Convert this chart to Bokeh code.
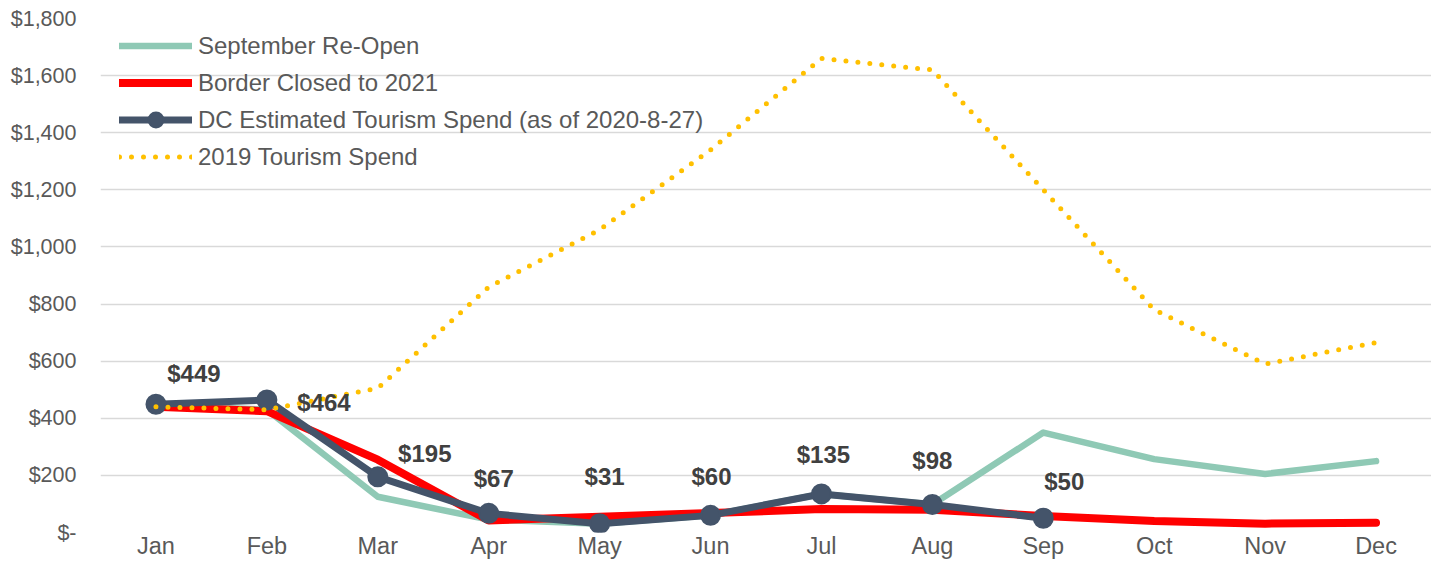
from bokeh.plotting import figure
from bokeh.models import FixedTicker, ColumnDataSource, Range1d, FactorRange
from bokeh.core.properties import value
from bokeh.embed import file_html
from bokeh.resources import INLINE

months = ["Jan", "Feb", "Mar", "Apr", "May", "Jun", "Jul", "Aug", "Sep", "Oct", "Nov", "Dec"]
reopen = [445, 430, 125, 45, 31, 60, 135, 98, 350, 257, 205, 250]
closed = [440, 425, 255, 42, 55, 68, 82, 80, 58, 40, 31, 34]
dc_months = ["Jan", "Feb", "Mar", "Apr", "May", "Jun", "Jul", "Aug", "Sep"]
dc_spend = [449, 464, 195, 67, 31, 60, 135, 98, 50]
spend_2019 = [440, 430, 505, 860, 1060, 1340, 1660, 1620, 1200, 780, 590, 665]
y_ticks = [0, 200, 400, 600, 800, 1000, 1200, 1400, 1600, 1800]
y_tick_labels = ["$-", "$200", "$400", "$600", "$800", "$1,000", "$1,200", "$1,400", "$1,600", "$1,800"]

# label placement (screen px offsets), kept apart from the data
label_dx = [38, 57, 47, 5, 5, 1, 2, 0, 21]
label_dy = [-31, 2, -23, -35, -47, -39, -39, -44, -37]

FONT = "Liberation Sans"

p = figure(width=1431, height=561, x_range=FactorRange(factors=months),
           y_range=Range1d(0, 1800), output_backend="svg", toolbar_location=None,
           min_border_left=100, min_border_top=18, min_border_right=0, min_border_bottom=0)
p.outline_line_color = None
p.background_fill_color = "white"
p.border_fill_color = "white"

p.xgrid.grid_line_color = None
p.ygrid.grid_line_color = "#D9D9D9"
p.ygrid.grid_line_width = 1.5
p.yaxis.ticker = FixedTicker(ticks=y_ticks)
p.yaxis.major_label_overrides = {t: l for t, l in zip(y_ticks, y_tick_labels)}

for ax in (p.xaxis[0], p.yaxis[0]):
    ax.axis_line_color = None
    ax.major_tick_line_color = None
    ax.minor_tick_line_color = None
    ax.major_tick_out = 0
    ax.major_tick_in = 0
    ax.major_label_text_color = "#595959"
    ax.major_label_text_font = FONT
p.yaxis.major_label_text_font_size = "21.5px"
p.yaxis.major_label_standoff = 24
p.xaxis.major_label_text_font_size = "23.5px"
p.xaxis.major_label_standoff = 0

p.line(months, reopen, line_color="#8FC9B5", line_width=6.5, line_join="round",
       line_cap="round", legend_label="September Re-Open")
p.line(months, closed, line_color="#FF0000", line_width=8, line_join="round",
       line_cap="round", legend_label="Border Closed to 2021")
p.line(dc_months, dc_spend, line_color="#44546A", line_width=7, line_join="round",
       line_cap="round", legend_label="DC Estimated Tourism Spend (as of 2020-8-27)")
p.scatter(dc_months, dc_spend, size=19, marker="circle", fill_color="#44546A",
          line_color="#44546A", line_width=2,
          legend_label="DC Estimated Tourism Spend (as of 2020-8-27)")
p.line(months, spend_2019, line_color="#FFC000", line_width=5, line_dash="0 12",
       line_cap="round", legend_label="2019 Tourism Spend")

src = ColumnDataSource(dict(x=dc_months, y=dc_spend,
                            t=["$" + str(v) for v in dc_spend],
                            dx=label_dx, dy=label_dy))
p.text(x="x", y="y", text="t", x_offset="dx", y_offset="dy", source=src,
       text_font=value(FONT), text_font_style="bold", text_font_size="24px",
       text_color="#404040", text_align="center", text_baseline="middle")

lg = p.legend[0]
lg.location = (19, 357)
lg.margin = 0
lg.padding = 0
lg.spacing = 0
lg.glyph_width = 73
lg.glyph_height = 37
lg.label_height = 37
lg.label_standoff = 6
lg.label_text_font = FONT
lg.label_text_font_size = "24px"
lg.label_text_color = "#595959"
lg.border_line_color = None
lg.background_fill_alpha = 0

open("out.html", "w").write(file_html(p, INLINE))
